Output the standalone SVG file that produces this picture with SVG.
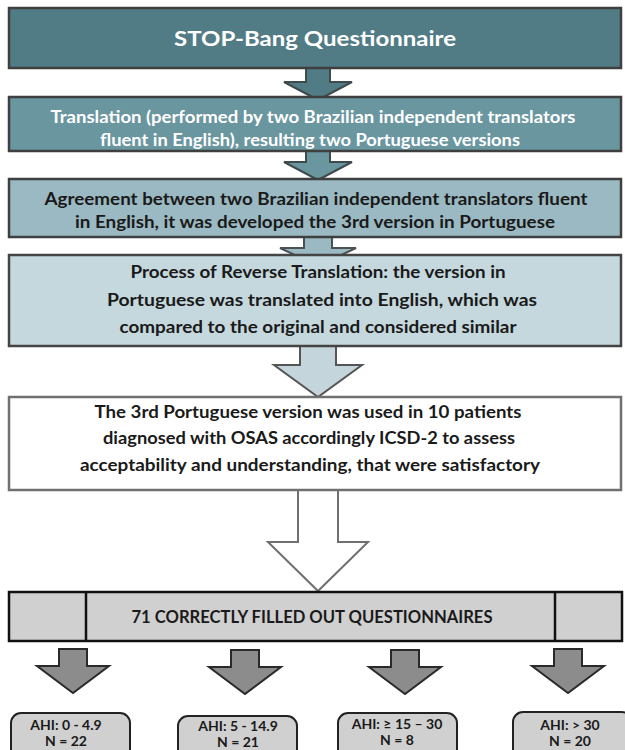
<svg xmlns="http://www.w3.org/2000/svg" width="625" height="750" viewBox="0 0 625 750">
<style>
.t{font-family:Lato,"Liberation Sans",sans-serif;font-weight:bold;text-anchor:middle}
.w{fill:#ffffff}
.d{fill:#1a1a1a}
.s15{font-size:16.5px}
.s13{font-size:14px}
</style>
<rect x="0" y="0" width="625" height="750" fill="#ffffff"/>
<g id="connectors">
<polygon points="306,68 330,68 330,82 352,82 318,100 284,82 306,82" fill="#527c85" stroke="#3f4a4c" stroke-width="2"/>
<polygon points="306,151 330,151 330,162 352,162 318,180 284,162 306,162" fill="#6a96a0" stroke="#3f4a4c" stroke-width="2"/>
<polygon points="304,237 332,237 332,248 356,248 318,266 280,248 304,248" fill="#9ab9c2" stroke="#4a5254" stroke-width="2"/>
<polygon points="300,346 336,346 336,365 362,365 318,397 274,365 300,365" fill="#c4d6db" stroke="#555555" stroke-width="2"/>
<polygon points="298,490 338,490 338,542 368,542 318,591 268,542 298,542" fill="#ffffff" stroke="#707070" stroke-width="2"/>
<polygon points="59,649 87,649 87,666 109,666 73,693 37,666 59,666" fill="#8c8c8c" stroke="#2a2a2a" stroke-width="2"/>
<polygon points="231,650 259,650 259,667 281,667 245,694 209,667 231,667" fill="#8c8c8c" stroke="#2a2a2a" stroke-width="2"/>
<polygon points="391,650 419,650 419,667 441,667 405,694 369,667 391,667" fill="#8c8c8c" stroke="#2a2a2a" stroke-width="2"/>
<polygon points="554,649 582,649 582,666 604,666 568,693 532,666 554,666" fill="#8c8c8c" stroke="#2a2a2a" stroke-width="2"/>
</g>
<g id="n1">
<rect x="9" y="8" width="612" height="60" fill="#527c85" stroke="#3f3f3f" stroke-width="2.5"/>
<text class="t w" x="315" y="46" font-size="21.5" textLength="282" lengthAdjust="spacingAndGlyphs">STOP-Bang Questionnaire</text>
</g>
<g id="n2">
<rect x="9" y="97" width="612" height="54" fill="#6a96a0" stroke="#3f3f3f" stroke-width="2.5"/>
<text class="t w s15" x="313" y="123" textLength="525" lengthAdjust="spacingAndGlyphs">Translation (performed by two Brazilian independent translators</text>
<text class="t w s15" x="310" y="146" textLength="420" lengthAdjust="spacingAndGlyphs">fluent in English), resulting two Portuguese versions</text>
</g>
<g id="n3">
<rect x="9" y="179" width="612" height="58" fill="#9ab9c2" stroke="#3f3f3f" stroke-width="2.5"/>
<text class="t d s15" x="316" y="205" textLength="543" lengthAdjust="spacingAndGlyphs">Agreement between two Brazilian independent translators fluent</text>
<text class="t d s15" x="315" y="228" textLength="480" lengthAdjust="spacingAndGlyphs">in English, it was developed the 3rd version in Portuguese</text>
</g>
<g id="n4">
<rect x="9" y="255" width="612" height="91" fill="#c5d8dd" stroke="#444444" stroke-width="2.5"/>
<text class="t d s15" x="318" y="278" textLength="375" lengthAdjust="spacingAndGlyphs">Process of Reverse Translation: the version in</text>
<text class="t d s15" x="322" y="306" textLength="430" lengthAdjust="spacingAndGlyphs">Portuguese was translated into English, which was</text>
<text class="t d s15" x="318" y="333" textLength="397" lengthAdjust="spacingAndGlyphs">compared to the original and considered similar</text>
</g>
<g id="n5">
<rect x="9" y="397" width="612" height="93" fill="#ffffff" stroke="#707070" stroke-width="2.5"/>
<text class="t d s15" x="308" y="418" textLength="427" lengthAdjust="spacingAndGlyphs">The 3rd Portuguese version was used in 10 patients</text>
<text class="t d s15" x="309" y="444" textLength="412" lengthAdjust="spacingAndGlyphs">diagnosed with OSAS accordingly ICSD-2 to assess</text>
<text class="t d s15" x="310" y="471" textLength="460" lengthAdjust="spacingAndGlyphs">acceptability and understanding, that were satisfactory</text>
</g>
<g id="n6">
<rect x="9" y="592" width="613" height="49" fill="#d0d0d0" stroke="#111111" stroke-width="2.5"/>
<line x1="86" y1="592" x2="86" y2="641" stroke="#111111" stroke-width="2.5"/>
<line x1="555" y1="592" x2="555" y2="641" stroke="#111111" stroke-width="2.5"/>
<text class="t d s15" x="312" y="623" textLength="361" lengthAdjust="spacingAndGlyphs">71 CORRECTLY FILLED OUT QUESTIONNAIRES</text>
</g>
<g id="n7">
<rect x="11" y="713" width="119" height="50" rx="10" fill="#d0d0d0" stroke="#222222" stroke-width="2"/>
<text class="t d s13" x="66" y="730">AHI: 0 - 4.9</text>
<text class="t d s13" x="66" y="746">N = 22</text>
</g>
<g id="n8">
<rect x="178" y="716" width="119" height="50" rx="10" fill="#d0d0d0" stroke="#222222" stroke-width="2"/>
<text class="t d s13" x="238" y="731">AHI: 5 - 14.9</text>
<text class="t d s13" x="238" y="747">N = 21</text>
</g>
<g id="n9">
<rect x="338" y="713" width="119" height="50" rx="10" fill="#d0d0d0" stroke="#222222" stroke-width="2"/>
<text class="t d s13" x="397" y="729">AHI: ≥ 15 – 30</text>
<text class="t d s13" x="397" y="745">N = 8</text>
</g>
<g id="n10">
<rect x="513" y="712" width="119" height="50" rx="10" fill="#d0d0d0" stroke="#222222" stroke-width="2"/>
<text class="t d s13" x="570" y="730">AHI: &gt; 30</text>
<text class="t d s13" x="570" y="746">N = 20</text>
</g>
</svg>
